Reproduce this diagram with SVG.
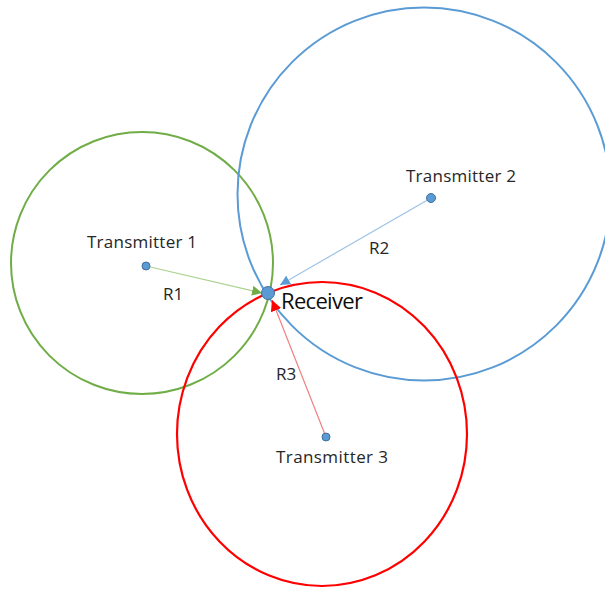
<svg xmlns="http://www.w3.org/2000/svg" width="605" height="590" viewBox="0 0 605 590">
<defs>
<style>
.lbl{font-family:"Open Sans","Liberation Sans",sans-serif;font-size:17px;fill:#262626}
.rx{font-family:"Open Sans","Liberation Sans",sans-serif;font-size:22px;fill:#0d0d0d}
.dot{fill:#5B9BD5;stroke:#41719C;stroke-width:1}
.ring{fill:none}
.conn{fill:none;stroke-width:1.2}
</style>
<marker id="ag" viewBox="0 0 10 10" refX="10" refY="5" markerWidth="10" markerHeight="10" markerUnits="userSpaceOnUse" orient="auto"><path d="M0,0 L10,5 L0,10 Z" fill="#70AD47"/></marker>
<marker id="ab" viewBox="0 0 10 10" refX="10" refY="5" markerWidth="10" markerHeight="10" markerUnits="userSpaceOnUse" orient="auto"><path d="M0,0 L10,5 L0,10 Z" fill="#5B9BD5"/></marker>
<marker id="ar" viewBox="0 0 10 10" refX="10" refY="5" markerWidth="11" markerHeight="11" markerUnits="userSpaceOnUse" orient="auto"><path d="M0,0 L10,5 L0,10 Z" fill="#FF0000"/></marker>
</defs>
<rect width="605" height="590" fill="#ffffff"/>
<g id="circles">
<circle class="ring" cx="142" cy="263" r="131" stroke="#70AD47" stroke-width="2"/>
<circle class="ring" cx="424" cy="194" r="186.5" stroke="#5B9BD5" stroke-width="2"/>
<ellipse class="ring" cx="322" cy="434" rx="145" ry="152" stroke="#FF0000" stroke-width="2.2"/>
</g>
<g id="connectors">
<line class="conn" x1="146" y1="266" x2="262" y2="293" stroke="#A9D18E" marker-end="url(#ag)"/>
<line class="conn" x1="431" y1="198" x2="280" y2="285" stroke="#9DC3E6" marker-end="url(#ab)"/>
<line class="conn" x1="326" y1="437" x2="272" y2="300" stroke="#F08080" marker-end="url(#ar)"/>
</g>
<g id="transmitter1">
<circle class="dot" cx="146" cy="266" r="4"/>
<text class="lbl" x="87" y="248" textLength="110">Transmitter 1</text>
<text class="lbl" x="163" y="300">R1</text>
</g>
<g id="transmitter2">
<circle class="dot" cx="431" cy="198" r="4.5"/>
<text class="lbl" x="406" y="182" textLength="110">Transmitter 2</text>
<text class="lbl" x="369" y="254">R2</text>
</g>
<g id="transmitter3">
<circle class="dot" cx="326" cy="437" r="4"/>
<text class="lbl" x="276" y="463" textLength="112">Transmitter 3</text>
<text class="lbl" x="276" y="380">R3</text>
</g>
<g id="receiver">
<circle class="dot" cx="268" cy="293" r="6.5"/>
<text class="rx" x="281" y="309" textLength="82">Receiver</text>
</g>
</svg>
